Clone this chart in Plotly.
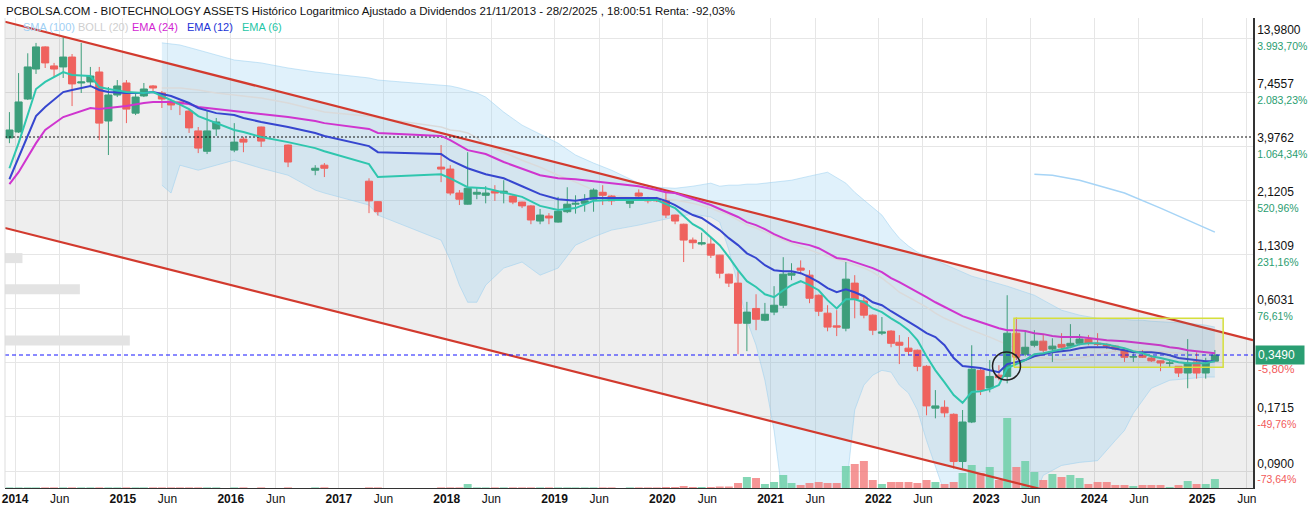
import math
import plotly.graph_objects as go

# ---------------- data (monthly) ----------------
candle_months = [
    "2013-12",
    "2014-01", "2014-02", "2014-03", "2014-04", "2014-05", "2014-06", "2014-07", "2014-08", "2014-09", "2014-10", "2014-11", "2014-12",
    "2015-01", "2015-02", "2015-03", "2015-04", "2015-05", "2015-06", "2015-07", "2015-08", "2015-09", "2015-10", "2015-11",
    "2016-01", "2016-02", "2016-04", "2016-07", "2016-10", "2016-11",
    "2017-04", "2017-05", "2017-12",
    "2018-01", "2018-02", "2018-03", "2018-04", "2018-05", "2018-06", "2018-07", "2018-08", "2018-09", "2018-10", "2018-11", "2018-12",
    "2019-01", "2019-02", "2019-03", "2019-04", "2019-05", "2019-06", "2019-07", "2019-09", "2019-10", "2019-11", "2019-12",
    "2020-01", "2020-02", "2020-03", "2020-04", "2020-05", "2020-06", "2020-07", "2020-08", "2020-09", "2020-10", "2020-11", "2020-12",
    "2021-01", "2021-02", "2021-03", "2021-04", "2021-05", "2021-06", "2021-07", "2021-08", "2021-09", "2021-10", "2021-11", "2021-12",
    "2022-01", "2022-02", "2022-03", "2022-04", "2022-05", "2022-06", "2022-07", "2022-08", "2022-09", "2022-10", "2022-11", "2022-12",
    "2023-01", "2023-02", "2023-03", "2023-04", "2023-05", "2023-06", "2023-07", "2023-08", "2023-09", "2023-10", "2023-11", "2023-12",
    "2024-01", "2024-02", "2024-03", "2024-04", "2024-05", "2024-06", "2024-07", "2024-08", "2024-09", "2024-10", "2024-11", "2024-12",
    "2025-01", "2025-02",
]
opens = [
    4.37,
    4.68, 6.87, 9.74, 12.6, 10.1, 9.98, 11.2, 8.28, 8.38, 9.41, 5.32, 7.20,
    8.28, 5.83, 7.12, 8.0, 7.37, 6.71, 6.64, 5.97, 4.74, 3.74, 4.85,
    3.79, 4.31, 4.96, 4.02, 3.00, 3.18,
    2.64, 2.08, 3.11,
    3.04, 2.30, 2.02, 2.27, 2.24, 2.35, 2.30, 2.22, 2.07, 1.98, 1.66, 1.76,
    1.64, 1.85, 2.02, 2.04, 2.14, 2.32, 2.22, 2.04, 2.30, 2.14, 2.14,
    2.10, 1.78, 1.60, 1.33, 1.27, 1.27, 1.116, 0.894, 0.806, 0.505, 0.60, 0.523,
    0.575, 0.623, 0.884, 0.96, 0.884, 0.70, 0.568, 0.49, 0.477, 0.806, 0.655, 0.555,
    0.45, 0.461, 0.405, 0.378, 0.369, 0.306, 0.188, 0.19, 0.175, 0.101, 0.160, 0.292,
    0.238, 0.276, 0.272, 0.45, 0.352, 0.391, 0.41, 0.374, 0.395, 0.387, 0.40, 0.42,
    0.40, 0.395, 0.387, 0.369, 0.341, 0.348, 0.337, 0.326, 0.317, 0.306, 0.283, 0.322,
    0.283, 0.325,
]
highs = [
    5.90,
    9.29, 11.7, 13.2, 12.7, 10.46, 14.1, 11.6, 13.2, 9.98, 9.98, 7.90, 8.57,
    8.57, 7.37, 8.28, 8.09, 7.54, 6.79, 6.66, 6.04, 4.96, 6.04, 5.51,
    5.19, 4.42, 4.98, 4.04, 3.18, 3.26,
    2.73, 2.09, 4.02,
    3.18, 2.38, 3.70, 2.46, 2.49, 2.52, 2.67, 2.24, 2.08, 2.00, 1.91, 1.82,
    2.20, 2.46, 2.24, 2.27, 2.43, 2.52, 2.24, 2.12, 2.40, 2.20, 2.20,
    2.30, 1.79, 1.61, 1.37, 1.45, 1.37, 1.12, 0.90, 0.926, 0.648, 0.708, 0.64,
    0.778, 1.09, 1.016, 1.05, 0.937, 0.705, 0.623, 0.588, 1.03, 0.884, 0.69, 0.56,
    0.543, 0.466, 0.44, 0.43, 0.372, 0.31, 0.232, 0.206, 0.177, 0.184, 0.391, 0.30,
    0.329, 0.31, 0.70, 0.54, 0.466, 0.466, 0.44, 0.424, 0.45, 0.50, 0.445, 0.44,
    0.45, 0.40, 0.39, 0.378, 0.355, 0.369, 0.348, 0.327, 0.329, 0.307, 0.42, 0.36,
    0.338, 0.37,
]
lows = [
    4.11,
    4.63, 6.79, 9.2, 9.86, 8.88, 8.78, 6.33, 7.37, 7.90, 4.26, 3.58, 7.03,
    5.19, 5.70, 7.03, 7.37, 6.19, 6.04, 5.70, 4.63, 3.66, 3.62, 4.47,
    3.70, 3.70, 3.93, 3.11, 2.83, 2.77,
    1.82, 1.77, 2.61,
    2.24, 2.00, 2.01, 2.14, 2.04, 2.10, 2.04, 2.02, 1.93, 1.60, 1.60, 1.60,
    1.63, 1.82, 1.81, 1.85, 1.85, 2.00, 2.00, 1.93, 2.14, 2.04, 2.07,
    1.72, 1.60, 1.03, 1.20, 1.25, 1.08, 0.852, 0.77, 0.352, 0.365, 0.466, 0.517,
    0.555, 0.603, 0.834, 0.894, 0.638, 0.549, 0.46, 0.435, 0.46, 0.535, 0.535, 0.44,
    0.44, 0.382, 0.314, 0.348, 0.289, 0.173, 0.167, 0.169, 0.093, 0.093, 0.158, 0.219,
    0.226, 0.26, 0.251, 0.329, 0.344, 0.382, 0.36, 0.322, 0.374, 0.378, 0.391, 0.391,
    0.387, 0.374, 0.369, 0.322, 0.322, 0.337, 0.322, 0.289, 0.303, 0.27, 0.237, 0.265,
    0.265, 0.325,
]
closes = [
    4.79,
    6.64, 9.98, 12.6, 10.46, 9.74, 11.2, 8.19, 8.38, 8.98, 5.19, 7.20, 8.0,
    6.11, 7.03, 7.72, 7.81, 6.87, 6.41, 6.49, 4.91, 3.88, 4.74, 5.26,
    4.16, 4.16, 4.21, 3.30, 3.07, 3.07,
    2.10, 1.85, 3.04,
    2.30, 2.14, 2.43, 2.32, 2.30, 2.30, 2.35, 2.07, 1.98, 1.68, 1.78, 1.72,
    1.86, 2.02, 2.04, 2.10, 2.38, 2.24, 2.10, 2.10, 2.22, 2.10, 2.10,
    1.78, 1.66, 1.33, 1.29, 1.29, 1.116, 0.905, 0.806, 0.505, 0.575, 0.529, 0.561,
    0.623, 0.894, 0.905, 0.937, 0.676, 0.581, 0.483, 0.483, 0.844, 0.668, 0.555, 0.466,
    0.456, 0.40, 0.391, 0.364, 0.306, 0.193, 0.193, 0.178, 0.101, 0.160, 0.296, 0.232,
    0.272, 0.268, 0.45, 0.34, 0.382, 0.41, 0.369, 0.387, 0.382, 0.40, 0.42, 0.40,
    0.395, 0.387, 0.374, 0.34, 0.342, 0.34, 0.326, 0.318, 0.318, 0.283, 0.318, 0.283,
    0.318, 0.349,
]
volumes = [
    0.6,
    0.6, 0.6, 0.6, 0.6, 0.6, 0.6, 0.6, 0.6, 0.6, 0.6, 0.6, 0.6,
    0.6, 0.6, 0.6, 0.6, 0.6, 0.6, 0.6, 0.6, 0.6, 0.6, 0.6,
    0.6, 0.6, 0.6, 0.6, 0.6, 0.6,
    0.6, 0.6, 0.6,
    0.6, 0.6, 4, 0.6, 0.6, 0.6, 0.6, 0.6, 0.6, 0.6, 0.6, 0.6,
    0.6, 0.6, 0.6, 0.6, 0.6, 0.6, 0.6, 0.6, 0.6, 0.6, 0.6,
    1, 1, 2, 1, 1, 1, 1.5, 1.5, 5, 11, 10, 4,
    6, 13, 5, 3, 5, 6, 5, 5, 22, 24, 27, 8,
    4, 6, 6, 6, 5, 8, 6, 4, 6, 15, 23, 15,
    21, 8, 70, 21, 27, 16, 8, 14, 11, 13, 10, 4,
    6, 6, 3, 3, 2, 3, 3, 3, 1, 3, 7, 4,
    4, 9,
]

ema_months = [
    "2013-12", "2014-01", "2014-03", "2014-04", "2014-06", "2014-07", "2014-09", "2014-10", "2014-11", "2015-01",
    "2015-03", "2015-04", "2015-06", "2015-08", "2015-09", "2015-11", "2016-01", "2016-02", "2016-04", "2016-07",
    "2016-10", "2016-11", "2017-04", "2017-05", "2017-12", "2018-01", "2018-03", "2018-05", "2018-07", "2018-09",
    "2018-11", "2019-01", "2019-03", "2019-05", "2019-07", "2019-10", "2019-12",
    "2020-01", "2020-02", "2020-03", "2020-04", "2020-05", "2020-06", "2020-07", "2020-08", "2020-09", "2020-10",
    "2020-11", "2020-12", "2021-01", "2021-02", "2021-03", "2021-04", "2021-05", "2021-06", "2021-07", "2021-08",
    "2021-09", "2021-10", "2021-11", "2021-12", "2022-01", "2022-02", "2022-03", "2022-04", "2022-05", "2022-06",
    "2022-07", "2022-08", "2022-09", "2022-10", "2022-11", "2022-12", "2023-01", "2023-02", "2023-03", "2023-04",
    "2023-05", "2023-06", "2023-07", "2023-08", "2023-09", "2023-10", "2023-11", "2023-12", "2024-01", "2024-02",
    "2024-04", "2024-05", "2024-06", "2024-07", "2024-08", "2024-09", "2024-10", "2024-11", "2024-12", "2025-01", "2025-02",
]
ema6 = [
    3.07, 4.11, 7.72, 8.38, 9.41, 9.09, 8.98, 7.90, 7.72, 7.45,
    7.37, 7.45, 6.79, 6.11, 5.63, 5.19, 4.79, 4.68, 4.42, 4.16,
    3.88, 3.74, 3.22, 2.77, 2.86, 2.73, 2.46, 2.43, 2.32, 2.20,
    1.98, 1.886, 1.93, 2.10, 2.12, 2.12, 2.12,
    2.02, 1.93, 1.76, 1.60, 1.51, 1.38, 1.254, 1.09, 0.937, 0.824,
    0.77, 0.708, 0.684, 0.742, 0.787, 0.824, 0.787, 0.742, 0.661, 0.60,
    0.668, 0.668, 0.645, 0.60, 0.575, 0.535, 0.505, 0.466, 0.415, 0.344,
    0.292, 0.254, 0.219, 0.20, 0.227, 0.229, 0.235, 0.246, 0.30, 0.314,
    0.329, 0.352, 0.356, 0.365, 0.374, 0.382, 0.395, 0.40, 0.40, 0.395,
    0.378, 0.365, 0.356, 0.344, 0.337, 0.329, 0.321, 0.317, 0.317, 0.317, 0.325,
]
ema12 = [
    2.70, 3.50, 5.63, 6.26, 7.45, 7.63, 8.0, 7.63, 7.45, 7.37,
    7.37, 7.45, 7.12, 6.56, 6.19, 5.83, 5.70, 5.51, 5.26, 4.96,
    4.63, 4.47, 3.97, 3.70, 3.62, 3.37, 3.07, 2.86, 2.73, 2.49,
    2.27, 2.14, 2.10, 2.17, 2.17, 2.17, 2.17,
    2.10, 2.00, 1.886, 1.78, 1.72, 1.60, 1.494, 1.36, 1.254, 1.14,
    1.08, 0.993, 0.937, 0.926, 0.926, 0.905, 0.864, 0.815, 0.76, 0.725,
    0.75, 0.725, 0.692, 0.645, 0.623, 0.581, 0.549, 0.511, 0.483, 0.45,
    0.43, 0.391, 0.337, 0.307, 0.303, 0.30, 0.292, 0.286, 0.314, 0.321,
    0.329, 0.344, 0.352, 0.36, 0.365, 0.369, 0.378, 0.382, 0.382, 0.382,
    0.369, 0.36, 0.36, 0.36, 0.356, 0.348, 0.337, 0.333, 0.329, 0.325, 0.325,
]
ema24 = [
    2.55, 2.93, 4.11, 4.79, 5.57, 5.77, 6.19, 6.11, 6.19, 6.33,
    6.56, 6.64, 6.64, 6.48, 6.26, 6.11, 5.97, 5.90, 5.77, 5.57,
    5.32, 5.19, 4.85, 4.63, 4.47, 4.26, 3.79, 3.62, 3.30, 3.04,
    2.83, 2.73, 2.70, 2.64, 2.58, 2.49, 2.38,
    2.32, 2.30, 2.22, 2.14, 2.07, 2.00, 1.91, 1.82, 1.74, 1.64,
    1.583, 1.51, 1.425, 1.36, 1.31, 1.28, 1.254, 1.21, 1.14, 1.08,
    1.065, 1.03, 0.993, 0.96, 0.916, 0.854, 0.815, 0.77, 0.725, 0.684,
    0.645, 0.609, 0.575, 0.549, 0.529, 0.511, 0.494, 0.477, 0.466, 0.466,
    0.461, 0.45, 0.445, 0.435, 0.43, 0.43, 0.43, 0.425, 0.42, 0.415,
    0.41, 0.405, 0.40, 0.395, 0.391, 0.382, 0.378, 0.369, 0.365, 0.36, 0.356,
]

boll_months = [
    "2015-05", "2015-06", "2015-07", "2015-09", "2015-11", "2016-01", "2016-04", "2016-07", "2016-10", "2016-11",
    "2017-04", "2017-05", "2017-12", "2018-01", "2018-02", "2018-03", "2018-04", "2018-05", "2018-07", "2018-09",
    "2018-11", "2019-01", "2019-03", "2019-05", "2019-07", "2019-10", "2019-12", "2020-02", "2020-04", "2020-06",
    "2020-07", "2020-08", "2020-09", "2020-10", "2020-11", "2020-12", "2021-01", "2021-02", "2021-03", "2021-05",
    "2021-07", "2021-09", "2021-10", "2021-11", "2021-12", "2022-01", "2022-02", "2022-03", "2022-04", "2022-05",
    "2022-06", "2022-07", "2022-08", "2022-09", "2022-11", "2023-01", "2023-03", "2023-05", "2023-06", "2023-07",
    "2023-09", "2023-11", "2024-01", "2024-03", "2024-04", "2024-05", "2024-06", "2024-07", "2024-09", "2024-11",
    "2025-01", "2025-02",
]
boll_upper = [
    13.21, 13.06, 12.89, 12.16, 11.47, 10.82, 10.46, 9.86, 9.41, 9.29,
    8.78, 8.57, 8.09, 8.0, 7.81, 7.63, 7.37, 7.03, 5.90, 5.07,
    4.58, 4.11, 3.58, 3.26, 3.00, 2.58, 2.46, 2.43, 2.49, 2.58,
    2.49, 2.52, 2.52, 2.55, 2.55, 2.58, 2.61, 2.64, 2.67, 2.80,
    2.93, 2.58, 2.32, 2.12, 1.95, 1.779, 1.53, 1.36, 1.24, 1.156,
    1.10, 1.053, 1.005, 0.96, 0.874, 0.824, 0.778, 0.725, 0.70, 0.661,
    0.588, 0.555, 0.535, 0.529, 0.529, 0.523, 0.523, 0.517, 0.511, 0.505,
    0.494, 0.483,
]
boll_mid = [
    7.81, 7.81, 7.81, 7.63, 7.37, 7.20, 6.95, 6.56, 6.04, 5.90,
    5.63, 5.51, 4.96, 4.79, 4.74, 4.63, 4.37, 4.02, 3.70, 3.37,
    3.11, 2.83, 2.61, 2.38, 2.24, 2.17, 2.17, 2.12, 2.04, 1.93,
    1.85, 1.779, 1.678, 1.583, 1.53, 1.46, 1.39, 1.329, 1.28, 1.183,
    1.10, 1.03, 0.993, 0.96, 0.916, 0.854, 0.787, 0.725, 0.684, 0.645,
    0.609, 0.568, 0.535, 0.511, 0.466, 0.43, 0.395, 0.36, 0.344, 0.337,
    0.329, 0.337, 0.352, 0.365, 0.369, 0.369, 0.369, 0.365, 0.36, 0.356,
    0.352, 0.348,
]
boll_lower = [
    2.52, 2.30, 3.18, 3.00, 3.18, 3.37, 3.07, 2.83, 2.38, 2.30,
    2.00, 1.779, 1.329, 1.053, 0.787, 0.645, 0.645, 0.787, 0.96, 1.03,
    0.884, 0.96, 1.254, 1.38, 1.494, 1.583, 1.66, 1.74, 1.80, 1.74,
    1.64, 1.183, 0.787, 0.523, 0.391, 0.26, 0.145, 0.063, 0.0505, 0.045,
    0.0505, 0.07, 0.184, 0.246, 0.276, 0.292, 0.286, 0.246, 0.224, 0.184,
    0.129, 0.0965, 0.07, 0.0505, 0.0405, 0.0405, 0.045, 0.056, 0.067, 0.086,
    0.0965, 0.10, 0.102, 0.129, 0.145, 0.177, 0.206, 0.237, 0.26, 0.266,
    0.27, 0.27,
]

sma100_months = ["2023-06", "2023-08", "2023-11", "2024-04", "2024-08", "2024-11", "2025-02"]
sma100 = [2.86, 2.83, 2.67, 2.30, 1.93, 1.678, 1.46]

channel_dates = ["2013-11-28", "2025-06-22"]
channel_upper = [16.9, 0.415]
channel_lower = [1.531, 0.0393]

profile_prices = [1.078, 0.751, 0.413]
profile_volume = [14, 60, 100]

resistance_level = 4.415
last_price = 0.349
box_dates = ["2023-04-05", "2025-03-13"]
box_prices = [0.303, 0.535]

ytick_prices = [13.98, 7.4557, 3.9762, 2.1205, 1.1309, 0.6031, 0.3216, 0.1715, 0.0900]
ytick_price_text = ["13,9800", "7,4557", "3,9762", "2,1205", "1,1309", "0,6031", "", "0,1715", "0,0900"]
ytick_pct_text = ["3.993,70%", "2.083,23%", "1.064,34%", "520,96%", "231,16%", "76,61%", "", "-49,76%", "-73,64%"]
years = list(range(2014, 2026))

title_text = ("PCBOLSA.COM - BIOTECHNOLOGY ASSETS Histórico Logaritmico Ajustado a Dividendos "
              "21/11/2013 - 28/2/2025 , 18:00:51 Renta: -92,03%")

# ---------------- styling ----------------
FONT = "Liberation Sans, Arial, sans-serif"
GREEN = "#3d9e7b"
RED = "#ef625e"
C_EMA6 = "#2fc6ae"
C_EMA12 = "#3646cf"
C_EMA24 = "#cf35cf"
C_CHAN = "#d23a2e"

# plot-area geometry (pixels) used for paper-referenced decorations
PL, PR, PT, PB = 5, 1253, 18, 488
PW, PH = PR - PL, PB - PT


def d(m):
    return m + "-13"


X_RANGE = channel_dates
Y_RANGE = [-1.1295, 1.2466]

fig = go.Figure()

# channel fill (main y)
fig.add_trace(go.Scatter(x=channel_dates, y=channel_lower, mode="lines",
                         line=dict(width=0), hoverinfo="skip", showlegend=False))
fig.add_trace(go.Scatter(x=channel_dates, y=channel_upper, mode="lines",
                         line=dict(width=0), fill="tonexty",
                         fillcolor="rgba(0,0,0,0.066)", hoverinfo="skip", showlegend=False))

# Bollinger band
bx = [d(m) for m in boll_months]
fig.add_trace(go.Scatter(x=bx, y=boll_upper, mode="lines",
                         line=dict(width=1, color="rgba(150,205,240,0.5)"),
                         hoverinfo="skip", showlegend=False))
fig.add_trace(go.Scatter(x=bx, y=boll_lower, mode="lines",
                         line=dict(width=1, color="rgba(150,205,240,0.5)"),
                         fill="tonexty", fillcolor="rgba(160,212,242,0.32)",
                         hoverinfo="skip", showlegend=False))
fig.add_trace(go.Scatter(x=bx, y=boll_mid, mode="lines",
                         line=dict(width=1.5, color="#dadada"),
                         hoverinfo="skip", showlegend=False))
fig.add_trace(go.Scatter(x=[d(m) for m in sma100_months], y=sma100, mode="lines",
                         line=dict(width=1.5, color="#a6d4f6"),
                         hoverinfo="skip", showlegend=False))

# volume-by-price profile (left)
px_, py_ = [], []
for p, v in zip(profile_prices, profile_volume):
    px_ += [0, v, None]
    py_ += [p, p, None]
fig.add_trace(go.Scatter(x=px_, y=py_, xaxis="x2", yaxis="y", mode="lines",
                         line=dict(width=10, color="#e3e3e3"),
                         hoverinfo="skip", showlegend=False))

# volume bars
cx = [d(m) for m in candle_months]
vcol = ["rgba(110,208,168,0.85)" if c >= o else "rgba(242,122,122,0.8)" for o, c in zip(opens, closes)]
fig.add_trace(go.Bar(x=cx, y=volumes, yaxis="y2", marker=dict(color=vcol, line=dict(width=0)),
                     width=27 * 24 * 3600 * 1000, hoverinfo="skip", showlegend=False))

# channel lines
for arr in (channel_upper, channel_lower):
    fig.add_trace(go.Scatter(x=channel_dates, y=arr, yaxis="y3", mode="lines",
                             line=dict(width=2.2, color=C_CHAN), hoverinfo="skip", showlegend=False))

# horizontal level lines
fig.add_trace(go.Scatter(x=X_RANGE, y=[resistance_level] * 2, yaxis="y3", mode="lines",
                         line=dict(width=1, color="#111111", dash="2px,2px"),
                         hoverinfo="skip", showlegend=False))
fig.add_trace(go.Scatter(x=X_RANGE, y=[last_price] * 2, yaxis="y3", mode="lines",
                         line=dict(width=1, color="#1414ff", dash="4px,3px"),
                         hoverinfo="skip", showlegend=False))

# candles
fig.add_trace(go.Candlestick(
    x=cx, open=opens, high=highs, low=lows, close=closes, yaxis="y3",
    increasing=dict(line=dict(color=GREEN, width=1), fillcolor=GREEN),
    decreasing=dict(line=dict(color=RED, width=1), fillcolor=RED),
    whiskerwidth=0, hoverinfo="skip", showlegend=False))

# EMAs
ex = [d(m) for m in ema_months]
for vals, col in ((ema24, C_EMA24), (ema12, C_EMA12), (ema6, C_EMA6)):
    fig.add_trace(go.Scatter(x=ex, y=vals, yaxis="y3", mode="lines",
                             line=dict(width=2, color=col), hoverinfo="skip", showlegend=False))

# consolidation box
fig.add_trace(go.Scatter(
    x=[box_dates[0], box_dates[1], box_dates[1], box_dates[0], box_dates[0]],
    y=[box_prices[0], box_prices[0], box_prices[1], box_prices[1], box_prices[0]],
    yaxis="y3", mode="lines", fill="toself", fillcolor="rgba(120,120,120,0.10)",
    line=dict(width=1.5, color="#d5df3c"), hoverinfo="skip", showlegend=False))

# ticks
xt_vals, xt_text = [], []
for y in years:
    xt_vals.append(f"{y}-01-01")
    xt_text.append(f"<b>{y}</b>")
    xt_vals.append(f"{y}-06-01")
    xt_text.append("Jun")

yt_text = []
for ptxt, pct in zip(ytick_price_text, ytick_pct_text):
    if not ptxt:
        yt_text.append("")
        continue
    col = "#f25a5a" if pct.startswith("-") else "#2a9d70"
    yt_text.append(f"{ptxt}<br><span style='color:{col};font-size:10.5px'>{pct}</span>")


def paper_x(px):
    return (px - PL) / PW


def paper_y(py):
    return (PB - py) / PH


annotations = [
    dict(xref="paper", yref="paper", x=paper_x(4), y=paper_y(11), xanchor="left", yanchor="middle",
         text=title_text, showarrow=False, font=dict(size=11.5, color="#111", family=FONT)),
]
legend_items = [("SMA (100)", "#9fd0f4", 21), ("BOLL (20)", "#cfcfcf", 76),
                ("EMA (24)", "#d21fd2", 130), ("EMA (12)", "#2233d6", 185), ("EMA (6)", "#1fc6a6", 240)]
for txt, col, px in legend_items:
    annotations.append(dict(xref="paper", yref="paper", x=paper_x(px), y=paper_y(27),
                            xanchor="left", yanchor="middle", text=txt, showarrow=False,
                            font=dict(size=11, color=col, family=FONT)))
annotations.append(dict(xref="paper", yref="y", x=1.0, y=math.log10(last_price), xanchor="left",
                        yanchor="middle", xshift=2, text="0,3490", showarrow=False,
                        bgcolor="#2a9e72", font=dict(size=12, color="white", family=FONT),
                        borderpad=2, width=44, align="left"))
annotations.append(dict(xref="paper", yref="y", x=1.0, y=math.log10(last_price), xanchor="left",
                        yanchor="middle", xshift=3, yshift=-14, text="-5,80%", showarrow=False,
                        font=dict(size=11.5, color="#f25a5a", family=FONT)))

# circle marking the breakout (pixel geometry converted to paper units)
CX, CY, CR = 1006.5, 366, 14
shapes = [
    dict(type="circle", xref="paper", yref="paper",
         x0=paper_x(CX - CR), x1=paper_x(CX + CR), y0=paper_y(CY + CR), y1=paper_y(CY - CR),
         line=dict(color="#222", width=1.5)),
    dict(type="line", xref="paper", yref="paper", x0=0, x1=0, y0=0, y1=1,
         line=dict(color="#dddddd", width=1)),
]

fig.update_layout(
    width=1308, height=512, autosize=False,
    margin=dict(l=PL, r=1308 - PR, t=PT, b=512 - PB, autoexpand=False),
    paper_bgcolor="white", plot_bgcolor="white",
    font=dict(family=FONT, size=12, color="#111"),
    showlegend=False, boxgap=0.1, boxgroupgap=0.05,
    xaxis=dict(type="date", range=X_RANGE, tickvals=xt_vals, ticktext=xt_text,
               showgrid=True, gridcolor="#e6e6e6", gridwidth=1, showline=True,
               linecolor="#333", linewidth=1, ticks="", tickfont=dict(size=12, color="#111"),
               rangeslider=dict(visible=False), zeroline=False, fixedrange=True, automargin=False),
    xaxis2=dict(overlaying="x", range=[0, 1000], visible=False, fixedrange=True),
    yaxis=dict(type="log", range=Y_RANGE, side="right", tickvals=ytick_prices, ticktext=yt_text,
               showgrid=True, gridcolor="#e6e6e6", gridwidth=1, showline=True,
               linecolor="#333", linewidth=1.5, ticks="", tickfont=dict(size=12, color="#111"),
               zeroline=False, fixedrange=True, automargin=False),
    yaxis2=dict(overlaying="y", range=[0, 470], visible=False, fixedrange=True),
    yaxis3=dict(overlaying="y", type="log", range=Y_RANGE, visible=False, fixedrange=True),
    annotations=annotations,
    shapes=shapes,
)

fig.write_html("out.html")
